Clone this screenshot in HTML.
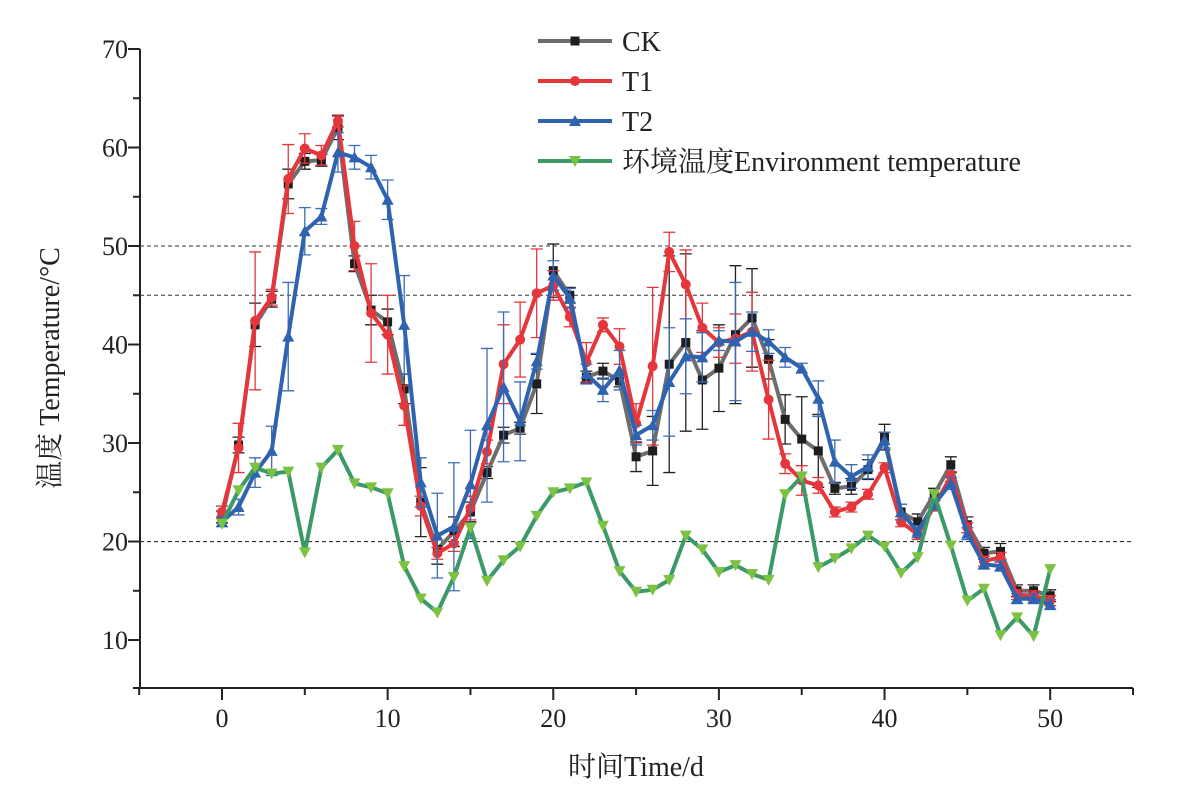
<!DOCTYPE html>
<html><head><meta charset="utf-8">
<style>
html,body{margin:0;padding:0;background:#fff;}
svg text{font-family:"Liberation Serif","Noto Serif CJK SC",serif;fill:#222;}
</style></head>
<body>
<svg id="chart" width="1182" height="792" viewBox="0 0 1182 792" xmlns="http://www.w3.org/2000/svg"></svg>
<script>
const days = [];
for (let i = 0; i <= 50; i++) days.push(i);
const ckValues = [22.5,29.8,42,44.6,56.3,58.6,58.7,62,48.2,43.5,42.3,35.5,24,19.2,21,23,27,30.8,31.5,36,47.5,45,36.7,37.3,36.3,28.6,29.2,38,40.2,36.4,37.6,41,42.7,38.5,32.4,30.4,29.2,25.4,25.6,27.3,30.6,23,22,24.8,27.8,21.7,18.8,19,15,15,14.5];
const t1Values = [23,29.5,42.4,44.8,56.8,59.9,59.2,62.7,50,43.2,41,33.8,23.6,18.8,19.8,23.4,29.1,38,40.5,45.2,46,42.8,38.2,42,39.8,32,37.8,49.4,46.1,41.7,40.2,40.6,41.3,34.4,27.9,26.2,25.7,23,23.5,24.8,27.5,22,20.7,23.6,26.6,21.4,18,18.4,14.6,14.5,14];
const t2Values = [22,23.5,27,29.2,40.8,51.5,53,59.5,59,58,54.7,42,26,20.6,21.5,25.8,31.8,35.7,32.2,38.3,47,44.7,37,35.4,37.4,30.8,31.8,36.2,38.8,38.7,40.4,40.3,41.3,40.3,38.7,37.6,34.5,28.1,26.6,27.6,30.3,23,21,23.8,25.9,20.8,17.7,17.5,14.2,14.2,13.6];
const envValues = [21.8,25.2,27.5,26.9,27.1,18.9,27.5,29.3,25.9,25.5,24.9,17.5,14.2,12.8,16.4,21.4,16,18.1,19.5,22.6,25,25.4,26,21.6,17,14.9,15.1,16.1,20.6,19.2,16.9,17.6,16.7,16.1,24.8,26.6,17.4,18.3,19.3,20.6,19.5,16.8,18.4,24.8,19.6,14,15.2,10.5,12.3,10.4,17.2];
const ckErr = [0.6,0.8,2.2,0.8,1.5,0.8,0.6,1.2,0.8,1.5,1.3,1.5,3.5,1.5,1.5,1,0.6,0.8,0.6,3,2.7,0.8,0.6,0.8,0.6,1.5,3.5,11,9,5,4.4,7,5,2,2.5,4.3,3.7,0.6,0.8,1,1.3,0.8,0.8,0.6,0.8,0.8,0.6,0.8,0.6,0.6,0.6];
const t1Err = [0.6,2.5,7,0.8,3.5,1.5,1,0.6,2.5,5,4,2,1,0.6,0.8,1.2,1.2,4,3.8,4.5,1.5,1,2,0.7,1.8,2,8,2,3.5,2.5,1.5,2.5,4,4,1,1.5,0.8,0.5,0.5,0.5,0.5,0.5,0.5,0.5,0.5,0.5,0.5,0.5,0.5,0.5,0.5];
const t2Err = [0.5,0.8,1.5,2.5,5.5,2.4,0.8,2,1.2,1.2,2,5,2.5,4.3,6.5,5.5,7.8,7.6,4,0.8,1.5,1,1,1.2,2,1,1.5,5.5,3.8,2.5,1,6,2,1.2,1,0.5,1.8,2.2,1.2,1.2,0.8,0.8,0.6,0.6,0.6,0.6,0.5,0.5,0.5,0.5,0.5];
const xTicks = [0,10,20,30,40,50];
const yTicks = [10,20,30,40,50,60,70];
const refLines = [50,45,20];

const NS = "http://www.w3.org/2000/svg";
const svg = document.getElementById('chart');
const X0 = 140, X1 = 1133, Y0 = 688, Y1 = 49;
const xMin = -4.95, xMax = 55, yMin = 5.13, yMax = 70;
function xs(v){ return X0 + (v - xMin) / (xMax - xMin) * (X1 - X0); }
function ys(v){ return Y0 - (v - yMin) / (yMax - yMin) * (Y0 - Y1); }
function mk(tag, attrs, parent){
  const e = document.createElementNS(NS, tag);
  for (const k in attrs) e.setAttribute(k, attrs[k]);
  (parent || svg).appendChild(e);
  return e;
}

refLines.forEach(v => {
  const l = mk('line', {x1:X0, x2:X1, y1:ys(v), y2:ys(v), stroke:'#333', 'stroke-width':1.1, 'stroke-dasharray':'4,3'});
  
  
});

const ax = mk('g', {stroke:'#222', 'stroke-width':2});


mk('line', {x1:X0, x2:X0, y1:Y0+1, y2:Y1}, ax);
mk('line', {x1:X0-1, x2:X1, y1:Y0, y2:Y0}, ax);
yTicks.forEach(v => {
  mk('line', {x1:X0-12, x2:X0, y1:ys(v), y2:ys(v)}, ax);
  if (v < 70) mk('line', {x1:X0-7, x2:X0, y1:ys(v+5), y2:ys(v+5)}, ax);
  const t = mk('text', {x:X0-12, y:ys(v)+9, 'text-anchor':'end', 'font-size':26});
  t.textContent = v;
  
  
});
mk('line', {x1:X0-7, x2:X0, y1:ys(5.13), y2:ys(5.13)}, ax);
for (let v = -5; v <= 55; v += 5) {
  const major = xTicks.indexOf(v) >= 0;
  mk('line', {x1:xs(v), x2:xs(v), y1:Y0, y2:Y0 + (major ? 12 : 7)}, ax);
}
xTicks.forEach(v => {
  const t = mk('text', {x:xs(v), y:Y0+39, 'text-anchor':'middle', 'font-size':26});
  t.textContent = v;
  
  
});
const xt = mk('text', {x:636, y:776, 'text-anchor':'middle', 'font-size':28});
xt.textContent = '时间Time/d';


const yt = mk('text', {x:0, y:0, 'text-anchor':'middle', 'font-size':28, transform:'translate(59,368) rotate(-90)'});
yt.textContent = '温度 Temperature/°C';



function marker(g, type, cx, cy, fill){
  if (type === 'square') mk('rect', {x:cx-4.5, y:cy-4.5, width:9, height:9, fill:fill}, g);
  else if (type === 'circle') mk('circle', {cx:cx, cy:cy, r:5, fill:fill}, g);
  else if (type === 'up') mk('polygon', {points:`${cx},${cy-6} ${cx-6},${cy+5} ${cx+6},${cy+5}`, fill:fill}, g);
  else mk('polygon', {points:`${cx},${cy+6} ${cx-6},${cy-5} ${cx+6},${cy-5}`, fill:fill}, g);
}

function series(name, vals, errs, lineColor, markColor, errColor, type){
  const g = mk('g', {});
  
  
  if (errs) {
    vals.forEach((v, i) => {
      const e = errs[i], cx = xs(days[i]);
      mk('path', {d:`M${cx},${ys(v-e)}V${ys(v+e)}M${cx-6},${ys(v-e)}H${cx+6}M${cx-6},${ys(v+e)}H${cx+6}`, stroke:errColor, 'stroke-width':1.3, fill:'none'}, g);
    });
  }
  const d = vals.map((v, i) => (i ? 'L' : 'M') + xs(days[i]).toFixed(1) + ',' + ys(v).toFixed(1)).join('');
  mk('path', {d:d, stroke:lineColor, 'stroke-width':4, fill:'none', 'stroke-linejoin':'round'}, g);
  vals.forEach((v, i) => marker(g, type, xs(days[i]), ys(v), markColor));
}
series('ck', ckValues, ckErr, '#6d6d6d', '#1e1e1e', '#222', 'square');
series('t1', t1Values, t1Err, '#e5363b', '#e5363b', '#e5363b', 'circle');
series('t2', t2Values, t2Err, '#2f63b0', '#2f63b0', '#3c6cb8', 'up');
series('environment', envValues, null, '#3c9a68', '#7cc242', null, 'down');

const legend = [
  ['CK', '#6d6d6d', '#1e1e1e', 'square'],
  ['T1', '#e5363b', '#e5363b', 'circle'],
  ['T2', '#2f63b0', '#2f63b0', 'up'],
  ['环境温度Environment temperature', '#3c9a68', '#7cc242', 'down']
];
legend.forEach((L, i) => {
  const y = 41 + i * 40;
  const g = mk('g', {});
  
  
  mk('line', {x1:538, x2:612, y1:y, y2:y, stroke:L[1], 'stroke-width':4}, g);
  marker(g, L[3], 575, y, L[2]);
  const t = mk('text', {x:622, y:y+10, 'font-size':28}, g);
  t.textContent = L[0];
});
</script>
</body></html>
